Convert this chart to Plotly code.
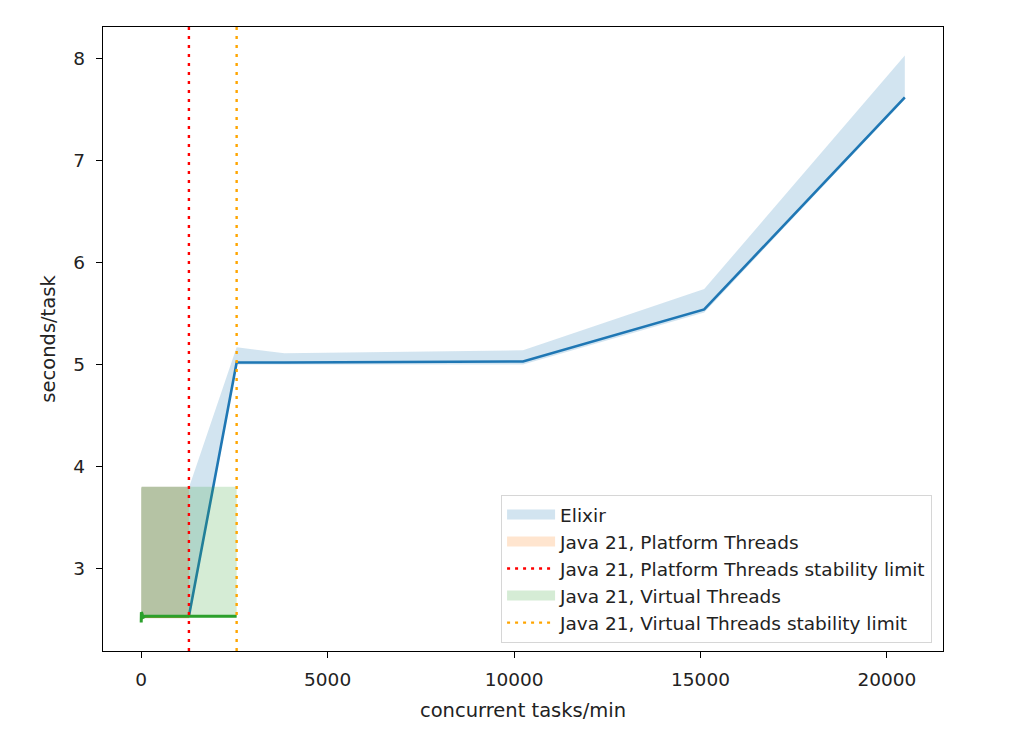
import plotly.graph_objects as go

# ---- data ----
elixir_x = [1280, 2560, 3840, 10240, 15100, 20480]
elixir_mean = [2.53, 5.02, 5.02, 5.03, 5.54, 7.62]
elixir_upper = [3.79, 5.17, 5.11, 5.14, 5.74, 8.03]
elixir_lower = [2.49, 5.00, 5.00, 5.00, 5.51, 7.60]

platform_x = [1, 10, 100, 640, 1280]
platform_mean = [2.50, 2.52, 2.53, 2.53, 2.53]
platform_upper = [3.78, 3.80, 3.80, 3.80, 3.80]
platform_lower = [2.48, 2.50, 2.51, 2.51, 2.51]

virtual_x = [1, 5, 10, 20, 50, 100, 640, 1280, 2560]
virtual_mean = [2.47, 2.57, 2.48, 2.56, 2.52, 2.53, 2.53, 2.53, 2.53]
virtual_upper = [3.79, 3.80, 3.80, 3.80, 3.80, 3.80, 3.80, 3.80, 3.80]
virtual_lower = [2.46, 2.50, 2.47, 2.50, 2.51, 2.52, 2.52, 2.52, 2.52]

platform_limit = 1280
virtual_limit = 2560

x_ticks = [0, 5000, 10000, 15000, 20000]
y_ticks = [3, 4, 5, 6, 7, 8]

# ---- styles ----
BLUE = "#1f77b4"
ORANGE = "#ff7f0e"
GREEN = "#2ca02c"
FONT = "DejaVu Sans"
FS = 18.5


def band(x, lo, hi, fill):
    return go.Scatter(
        x=list(x) + list(x)[::-1],
        y=list(hi) + list(lo)[::-1],
        fill="toself", fillcolor=fill, mode="lines",
        line=dict(width=0), hoverinfo="skip", showlegend=False,
    )


fig = go.Figure()

# Elixir
fig.add_trace(band(elixir_x, elixir_lower, elixir_upper, "rgba(31,119,180,0.2)"))
fig.add_trace(go.Scatter(x=elixir_x, y=elixir_mean, mode="lines",
                         line=dict(color=BLUE, width=2.6), showlegend=False))
# Java platform threads
fig.add_trace(band(platform_x, platform_lower, platform_upper, "rgba(140,110,80,0.35)"))
fig.add_trace(go.Scatter(x=platform_x, y=platform_mean, mode="lines",
                         line=dict(color=ORANGE, width=2.6), showlegend=False))
# Java virtual threads
fig.add_trace(band(virtual_x, virtual_lower, virtual_upper, "rgba(44,160,44,0.2)"))
fig.add_trace(go.Scatter(x=virtual_x, y=virtual_mean, mode="lines",
                         line=dict(color=GREEN, width=3), showlegend=False))

# stability limits
fig.add_vline(x=platform_limit, line=dict(color="red", width=2.4, dash="3px,6px"))
fig.add_vline(x=virtual_limit, line=dict(color="orange", width=2.4, dash="3px,6px"))

# legend entries
legend_items = [
    ("Elixir", "fill", "rgb(210,228,240)"),
    ("Java 21, Platform Threads", "fill", "rgb(255,229,207)"),
    ("Java 21, Platform Threads stability limit", "line", "red"),
    ("Java 21, Virtual Threads", "fill", "rgb(213,236,213)"),
    ("Java 21, Virtual Threads stability limit", "line", "orange"),
]
for name, kind, col in legend_items:
    if kind == "fill":
        fig.add_trace(go.Scatter(x=[None], y=[None], name=name, mode="lines",
                                 line=dict(width=11, color=col), showlegend=True))
    else:
        fig.add_trace(go.Scatter(x=[None], y=[None], name=name, mode="lines",
                                 line=dict(color=col, width=2.4, dash="3px,5px"),
                                 showlegend=True))

axis_common = dict(
    showline=True, mirror=True, linecolor="black", linewidth=1.3,
    ticks="outside", ticklen=6, tickwidth=1.3, tickcolor="black",
    showgrid=False, zeroline=False,
    tickfont=dict(family=FONT, size=FS, color="#222"),
)

fig.update_layout(
    width=1008, height=723,
    margin=dict(l=95, r=73, t=19, b=80),
    paper_bgcolor="white", plot_bgcolor="white",
    font=dict(family=FONT, size=FS, color="#222"),
    xaxis=dict(range=[-1024, 21504], tickvals=x_ticks,
               ticktext=[str(v) for v in x_ticks], ticklabelstandoff=6,
               title=dict(text="concurrent tasks/min", standoff=14,
                          font=dict(family=FONT, size=19.5, color="#222")),
               **axis_common),
    yaxis=dict(range=[2.19, 8.31], tickvals=y_ticks,
               ticktext=[str(v) for v in y_ticks], ticklabelstandoff=7,
               title=dict(text="seconds/task", standoff=12,
                          font=dict(family=FONT, size=19.5, color="#222")),
               **axis_common),
    legend=dict(
        x=0.987, y=0.013, xanchor="right", yanchor="bottom",
        bgcolor="rgba(255,255,255,0.8)", bordercolor="#d6d6d6", borderwidth=1,
        font=dict(family=FONT, size=FS, color="#222"),
        itemwidth=48, tracegroupgap=0,
    ),
)

fig.write_html("out.html")
